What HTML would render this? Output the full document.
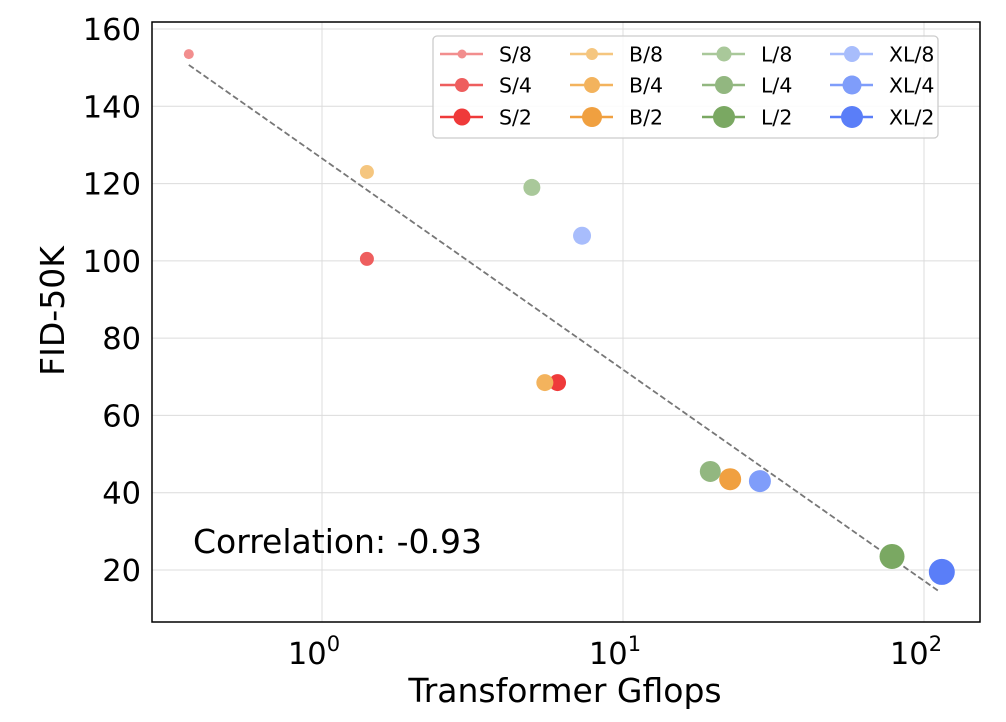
<!DOCTYPE html>
<html><head><meta charset="utf-8"><style>
body{margin:0;background:#fff;}
svg{display:block;font-family:"DejaVu Sans","Liberation Sans",sans-serif;}
</style></head><body>
<svg id="chart" width="1006" height="722" viewBox="0 0 1006 722">
<g id="grid"></g>
<g id="trend"></g>
<g id="pts"></g>
<rect x="152" y="22" width="828" height="600" fill="none" stroke="#000" stroke-width="1.5"/>
<g id="axes"></g>
<text x="565" y="702" font-size="33" text-anchor="middle">Transformer Gflops</text>
<text transform="translate(64,311) rotate(-90)" font-size="33" text-anchor="middle">FID-50K</text>
<text x="193" y="553" font-size="33">Correlation: -0.93</text>
<g id="legend"></g>
</svg>
<script>
const labels=["S/8","S/4","S/2","B/8","B/4","B/2","L/8","L/4","L/2","XL/8","XL/4","XL/2"];
const gflops=[0.361,1.41,6.06,1.41,5.5,22.7,4.98,19.5,78.3,7.31,28.5,114.6];
const fid=[153.5,100.5,68.5,123,68.5,43.5,119,45.5,23.5,106.5,43,19.5];
const colors=["#f28e8e","#ee5e5e","#ef3a3a","#f5c67f","#f3b35d","#f0a040","#a9c89a","#92b780","#7aa862","#a8bdfc","#7f9dfa","#5a7ef8"];
const radii=[5,7,8.5,7,8.5,11,8.5,10.5,12.5,9,11,13];
const legR=[4.5,7,8.5,6,8,10,7.5,9,11,8,9.5,11];
const yTicks=[20,40,60,80,100,120,140,160];
const xTicks=[1,10,100];
const trendX=[0.361,113];
const trendY=[150.7,14.3];
const NS="http://www.w3.org/2000/svg";
const X=v=>322+301*Math.log10(v);
const Y=v=>570-(v-20)*(541/140);
function mk(tag,attrs,parent,txt){const e=document.createElementNS(NS,tag);for(const k in attrs)e.setAttribute(k,attrs[k]);if(txt!==undefined)e.textContent=txt;parent.appendChild(e);return e;}
const grid=document.getElementById('grid'),axes=document.getElementById('axes');
yTicks.forEach(t=>{
 const l=mk('line',{x1:152,x2:980,y1:Y(t),y2:Y(t),stroke:'#dcdcdc','stroke-width':1},grid);
 
 
 const tx=mk('text',{x:141,y:Y(t)+11,'font-size':30.5,'text-anchor':'end'},axes,String(t));
 
 
});
xTicks.forEach((t,i)=>{
 const l=mk('line',{x1:X(t),x2:X(t),y1:22,y2:622,stroke:'#dcdcdc','stroke-width':1},grid);
 
 
 const tx=mk('text',{x:X(t)-8,y:664,'font-size':30.5,'text-anchor':'middle'},axes);
 
 
 mk('tspan',{},tx,'10');
 mk('tspan',{dy:-13,'font-size':21},tx,String(i));
});
const tl=mk('line',{x1:X(trendX[0]),y1:Y(trendY[0]),x2:X(trendX[1]),y2:Y(trendY[1]),stroke:'#777','stroke-width':1.8,'stroke-dasharray':'6,3'},document.getElementById('trend'));


const pts=document.getElementById('pts'),leg=document.getElementById('legend');
labels.forEach((lb,i)=>{
 const c=mk('circle',{cx:X(gflops[i]),cy:Y(fid[i]),r:radii[i],fill:colors[i]},pts);
 
 
});
mk('rect',{x:433,y:36,width:505,height:102,rx:4,fill:'#fff','fill-opacity':0.85,stroke:'#ccc','stroke-width':1.3},leg);
const colX=[440,570,702,830],rowY=[54,85,117];
labels.forEach((lb,i)=>{
 const col=Math.floor(i/3),row=i%3,x=colX[col],y=rowY[row];
 const g=mk('g',{},leg);
 
 
 mk('line',{x1:x,x2:x+43,y1:y,y2:y,stroke:colors[i],'stroke-width':2.5},g);
 mk('circle',{cx:x+22,cy:y,r:legR[i],fill:colors[i]},g);
 mk('text',{x:x+59,y:y+7.5,'font-size':20.5},g,lb);
});
</script>
</body></html>
